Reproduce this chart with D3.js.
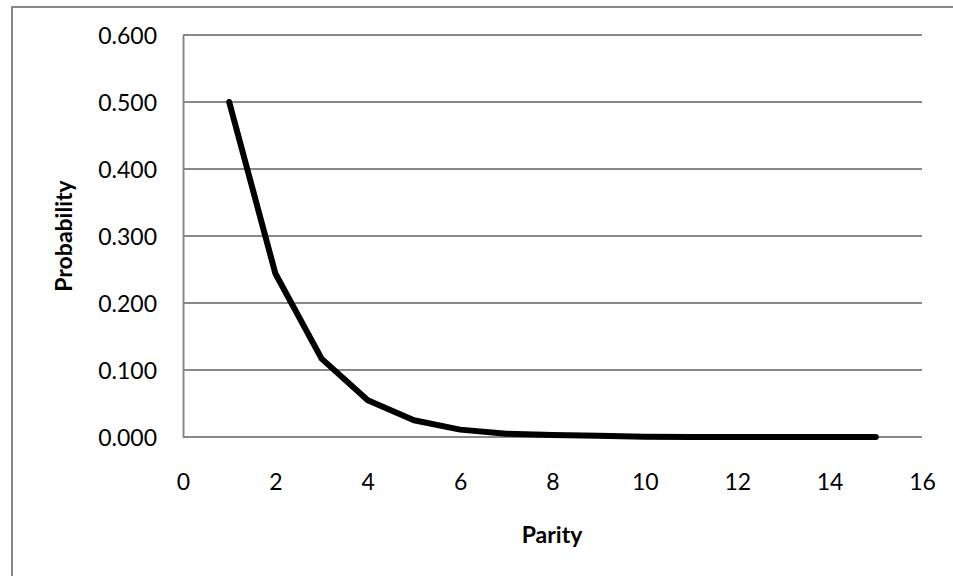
<!DOCTYPE html>
<html>
<head>
<meta charset="utf-8">
<script src="https://cdn.jsdelivr.net/npm/d3@7"></script>
<style>
  body { margin: 0; background: #fff; }
  svg text { font-family: Lato, "Open Sans", sans-serif; fill: #000; }
</style>
</head>
<body>
<svg id="chart" width="953" height="576"></svg>
<script>
// parity 1..15 and its probability
const parity = [1, 2, 3, 4, 5, 6, 7, 8, 9, 10, 11, 12, 13, 14, 15];
const probability = [0.500, 0.244, 0.117, 0.055, 0.025, 0.011, 0.005, 0.003, 0.002, 0.0005, 0.000, 0.000, 0.000, 0.000, 0.000];
const xTicks = [0, 2, 4, 6, 8, 10, 12, 14, 16];
const yTicks = [0, 0.1, 0.2, 0.3, 0.4, 0.5, 0.6];

const svg = d3.select("#chart");
const margin = {top: 35, right: 31, bottom: 139, left: 183};
const width = 953 - margin.left - margin.right;
const height = 576 - margin.top - margin.bottom;

// outer chart border (runs off the right/bottom edge in the original)
svg.append("rect")
   .attr("x", 12).attr("y", 7)
   .attr("width", 960).attr("height", 600)
   .attr("fill", "none")
   .attr("stroke", "#888")
   .attr("stroke-width", 2);

const x = d3.scaleLinear().domain([0, 16]).range([0, width]);
const y = d3.scaleLinear().domain([0, 0.6]).range([height, 0]);

const g = svg.append("g")
             .attr("transform", "translate(" + margin.left + "," + margin.top + ")");

// gridlines
g.append("g")
 .selectAll("line")
 .data(yTicks)
 .enter()
 .append("line")
 .attr("x1", 0).attr("x2", width)
 .attr("y1", d => y(d)).attr("y2", d => y(d))
 .attr("stroke", "#888")
 .attr("stroke-width", 2);

// y axis
const yAxis = g.append("g")
               .call(d3.axisLeft(y).tickValues(yTicks).tickFormat(d3.format(".3f")).tickSize(0).tickPadding(26));
yAxis.select(".domain").attr("stroke", "#888").attr("stroke-width", 2);
yAxis.selectAll("text").attr("font-size", "23px").attr("dy", "0.36em");

// x axis
const xAxis = g.append("g")
               .attr("transform", "translate(0," + height + ")")
               .call(d3.axisBottom(x).tickValues(xTicks).tickSize(0).tickPadding(53));
xAxis.select(".domain").remove();
xAxis.selectAll("text").attr("font-size", "23px").attr("dy", "0");

// axis titles
svg.append("text")
   .attr("x", 552).attr("y", 543)
   .attr("text-anchor", "middle")
   .attr("font-size", "23px")
   .attr("font-weight", "bold")
   .text("Parity");

svg.append("text")
   .attr("transform", "translate(72,236) rotate(-90)")
   .attr("text-anchor", "middle")
   .attr("font-size", "23px")
   .attr("font-weight", "bold")
   .text("Probability");

// the curve
const line = d3.line()
               .x((d, i) => x(parity[i]))
               .y(d => y(d));

g.append("path")
 .datum(probability)
 .attr("d", line)
 .attr("fill", "none")
 .attr("stroke", "#000")
 .attr("stroke-width", 6)
 .attr("stroke-linejoin", "round")
 .attr("stroke-linecap", "round");
</script>
</body>
</html>
